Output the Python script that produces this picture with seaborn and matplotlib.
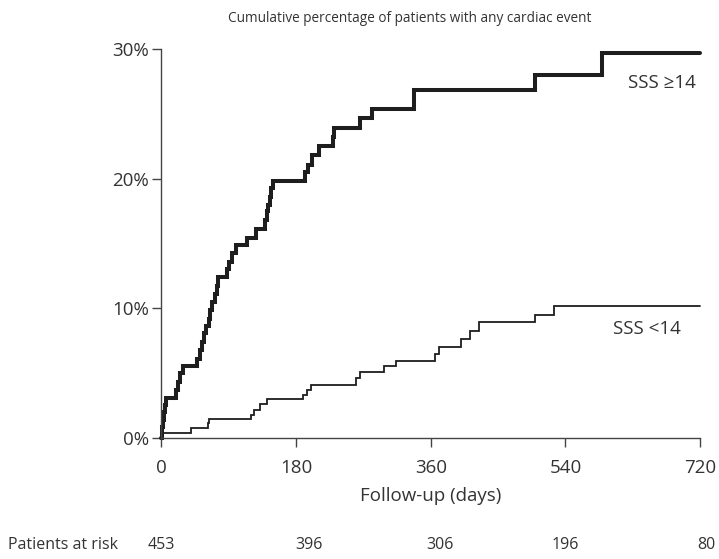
import matplotlib
matplotlib.use("Agg")
import matplotlib.pyplot as plt
import seaborn as sns
import pandas as pd

# Cumulative event curves (day of event, cumulative % after the event)
high_days = [0, 1, 2, 3, 5, 6, 20, 22, 25, 29, 48, 51, 54, 57, 60, 63, 65, 68, 71, 74,
             76, 87, 90, 94, 99, 114, 126, 138, 141, 143, 145, 147, 149, 192, 196, 201,
             210, 229, 230, 265, 282, 338, 500, 589, 720]
high_pct = [0.0, 0.8, 1.4, 2.0, 2.5, 3.05, 3.7, 4.3, 5.0, 5.5, 6.1, 6.8, 7.4, 8.1, 8.6,
            9.2, 9.9, 10.5, 11.1, 11.7, 12.4, 13.0, 13.6, 14.3, 14.9, 15.4, 16.1, 16.8,
            17.5, 18.0, 18.6, 19.3, 19.85, 20.5, 21.1, 21.8, 22.5, 23.2, 23.95, 24.7,
            25.4, 26.85, 28.05, 29.7, 29.7]

low_days = [0, 0, 39, 62, 63, 120, 124, 132, 141, 189, 194, 200, 260, 265, 298, 313,
            366, 371, 400, 412, 424, 499, 525, 720]
low_pct = [0.0, 0.39, 0.72, 1.1, 1.42, 1.75, 2.14, 2.6, 2.97, 3.3, 3.7, 4.07, 4.6, 5.05,
           5.5, 5.95, 6.45, 7.0, 7.65, 8.26, 8.9, 9.5, 10.17, 10.17]

x_ticks = [0, 180, 360, 540, 720]
y_ticks = [0, 10, 20, 30]
y_tick_labels = ["0%", "10%", "20%", "30%"]

at_risk = [453, 396, 306, 196, 80]
at_risk_days = [0, 197, 372, 540, 729]

sns.set_style("ticks")
plt.rcParams["font.family"] = ["Open Sans", "DejaVu Sans"]
text_color = "#333333"
line_color = "#1e1e1e"
axis_color = "#444444"

df = pd.concat([
    pd.DataFrame({"day": high_days, "pct": high_pct, "group": "SSS ≥14"}),
    pd.DataFrame({"day": low_days, "pct": low_pct, "group": "SSS <14"}),
], ignore_index=True)

fig = plt.figure(figsize=(7.19, 5.59), dpi=100)
ax = fig.add_axes([0.2246, 0.2170, 0.7490, 0.6948])

sns.lineplot(data=df[df.group == "SSS ≥14"], x="day", y="pct", ax=ax,
             drawstyle="steps-post", estimator=None, sort=False,
             color=line_color, linewidth=2.9, legend=False)
sns.lineplot(data=df[df.group == "SSS <14"], x="day", y="pct", ax=ax,
             drawstyle="steps-post", estimator=None, sort=False,
             color=line_color, linewidth=1.3, legend=False)
for ln in ax.lines:
    ln.set_clip_on(False)
    ln.set_solid_joinstyle("miter")

ax.set_xlim(0, 720)
ax.set_ylim(0, 30)
ax.set_xticks(x_ticks)
ax.set_yticks(y_ticks)
ax.set_yticklabels(y_tick_labels)
ax.tick_params(axis="both", direction="out", length=6.5, width=1.0,
               color=axis_color, labelsize=13.5, labelcolor=text_color)
ax.tick_params(axis="y", pad=2.5)
ax.tick_params(axis="x", pad=9)
sns.despine(ax=ax)
for s in ("left", "bottom"):
    ax.spines[s].set_color(axis_color)
    ax.spines[s].set_linewidth(1.0)

ax.set_xlabel("Follow-up (days)", fontsize=13.5, color=text_color, labelpad=7)
ax.set_ylabel("")

fig.text(410 / 719, 1 - 18 / 559,
         "Cumulative percentage of patients with any cardiac event",
         fontsize=9.8, color=text_color, ha="center", va="center")

ax.text(715, 27.4, "SSS ≥14", fontsize=13.5, color=text_color, ha="right", va="center")
ax.text(694, 8.4, "SSS <14", fontsize=13.5, color=text_color, ha="right", va="center")

fig.text(8 / 719, 1 - 545 / 559, "Patients at risk", fontsize=11.5,
         color=text_color, ha="left", va="center")
for d, n in zip(at_risk_days, at_risk):
    xf = ax.transData.transform((d, 0))[0] / fig.bbox.width
    fig.text(xf, 1 - 545 / 559, str(n), fontsize=11.5, color=text_color,
             ha="center", va="center")

fig.savefig("out.png", dpi=100)
